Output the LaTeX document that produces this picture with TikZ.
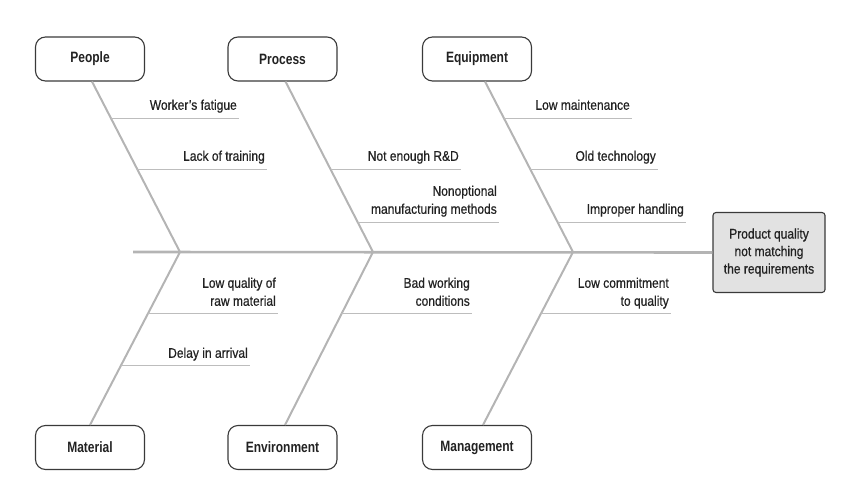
\documentclass[tikz,border=0pt]{standalone}
\usepackage{fontspec}
\setmainfont[FakeStretch=0.86,FakeBold=0.6]{Liberation Sans}
\newfontfamily\catfont[FakeStretch=0.8]{Liberation Sans}
\usetikzlibrary{calc}
\definecolor{bonegray}{HTML}{B4B4B4}
\definecolor{subgray}{HTML}{BDBDBD}
\definecolor{boxline}{HTML}{3A3A3A}
\definecolor{headfill}{HTML}{E2E2E2}
\definecolor{inkgray}{HTML}{222222}
\tikzset{
  catbox/.style={draw=boxline, line width=1.1pt, rounded corners=10pt,
    minimum width=109pt, minimum height=44pt, inner sep=0pt,
    font=\catfont\bfseries\fontsize{15}{18}\selectfont, text=inkgray},
  headbox/.style={draw=boxline, line width=1.1pt, rounded corners=3pt, fill=headfill,
    minimum width=112pt, minimum height=80pt, inner sep=0pt, align=center,
    font=\fontsize{14}{17.5}\selectfont, text=inkgray},
  spine/.style={draw=bonegray, line width=2.6pt},
  bone/.style={draw=bonegray, line width=2pt},
  subbone/.style={draw=subgray, line width=1pt},
  cause/.style={anchor=south east, inner sep=0pt, text depth=0pt, align=right,
    font=\fontsize{14}{18}\selectfont, text=inkgray}
}
\begin{document}
\begin{tikzpicture}[x=1pt, y=-1pt]
\useasboundingbox (0,0) rectangle (858,486);

% category boxes
\node[catbox] (people) at (90,59) {People};
\node[catbox] (process) at (282.5,59) {Process};
\node[catbox] (equipment) at (477,59) {Equipment};
\node[catbox] (material) at (90,447.5) {Material};
\node[catbox] (environment) at (282.5,447.5) {Environment};
\node[catbox] (management) at (477,447.5) {Management};
\node[headbox] (effect) at (769,252.5) {Product quality\\not matching\\the requirements};

% spine and junctions
\coordinate (tail) at (133,252);
\coordinate (j1) at (180,252);
\coordinate (j2) at (373,252);
\coordinate (j3) at (573,252);
\draw[spine] (tail) -- (effect.west);

% bone starts
\coordinate (bpeople) at ($(people.south)+(2,0)$);
\coordinate (bprocess) at ($(process.south)+(3,0)$);
\coordinate (bequipment) at ($(equipment.south)+(8,0)$);
\coordinate (bmaterial) at ($(material.north)+(0,0)$);
\coordinate (benvironment) at ($(environment.north)+(2.5,0)$);
\coordinate (bmanagement) at ($(management.north)+(6,0)$);

\draw[bone] (bpeople) -- (j1);
\draw[bone] (bprocess) -- (j2);
\draw[bone] (bequipment) -- (j3);
\draw[bone] (j1) -- (bmaterial);
\draw[bone] (j2) -- (benvironment);
\draw[bone] (j3) -- (bmanagement);

% sub-bones: People
\coordinate (pa) at ($(bpeople)!0.2164!(j1)$);
\coordinate (pae) at (239,118);
\draw[subbone] (pa) -- (pa -| pae);
\node[cause] (tpa) at (237,110) {Worker's fatigue};
\coordinate (pb) at ($(bpeople)!0.5146!(j1)$);
\coordinate (pbe) at (267,169);
\draw[subbone] (pb) -- (pb -| pbe);
\node[cause] (tpb) at (265,161) {Lack of training};

% Process
\coordinate (ra) at ($(bprocess)!0.5146!(j2)$);
\coordinate (rae) at (461,169);
\draw[subbone] (ra) -- (ra -| rae);
\node[cause] (tra) at (459,161) {Not enough R\&D};
\coordinate (rb) at ($(bprocess)!0.8246!(j2)$);
\coordinate (rbe) at (499,222);
\draw[subbone] (rb) -- (rb -| rbe);
\node[cause] (trb) at (497,214) {Nonoptional\\manufacturing methods};

% Equipment
\coordinate (ea) at ($(bequipment)!0.2164!(j3)$);
\coordinate (eae) at (632,118);
\draw[subbone] (ea) -- (ea -| eae);
\node[cause] (tea) at (630,110) {Low maintenance};
\coordinate (eb) at ($(bequipment)!0.5146!(j3)$);
\coordinate (ebe) at (658,169);
\draw[subbone] (eb) -- (eb -| ebe);
\node[cause] (teb) at (656,161) {Old technology};
\coordinate (ec) at ($(bequipment)!0.8246!(j3)$);
\coordinate (ece) at (686,222);
\draw[subbone] (ec) -- (ec -| ece);
\node[cause] (tec) at (684,214) {Improper handling};

% Material
\coordinate (ma) at ($(j1)!0.3584!(bmaterial)$);
\coordinate (mae) at (278,314);
\draw[subbone] (ma) -- (ma -| mae);
\node[cause] (tma) at (276,306) {Low quality of\\raw material};
\coordinate (mb) at ($(j1)!0.6590!(bmaterial)$);
\coordinate (mbe) at (250,366);
\draw[subbone] (mb) -- (mb -| mbe);
\node[cause] (tmb) at (248,358) {Delay in arrival};

% Environment
\coordinate (va) at ($(j2)!0.3584!(benvironment)$);
\coordinate (vae) at (472,314);
\draw[subbone] (va) -- (va -| vae);
\node[cause] (tva) at (470,306) {Bad working\\conditions};

% Management
\coordinate (ga) at ($(j3)!0.3584!(bmanagement)$);
\coordinate (gae) at (671,314);
\draw[subbone] (ga) -- (ga -| gae);
\node[cause] (tga) at (669,306) {Low commitment\\to quality};
\end{tikzpicture}
\end{document}
